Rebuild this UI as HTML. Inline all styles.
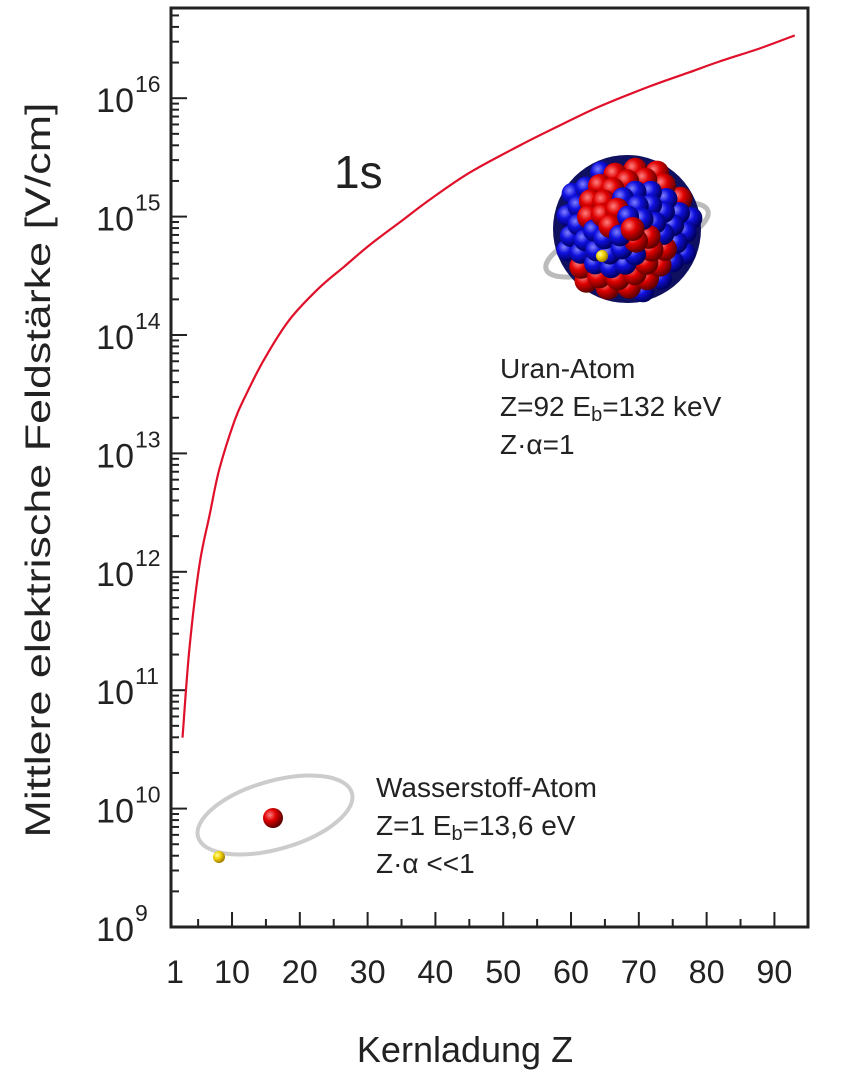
<!DOCTYPE html>
<html><head><meta charset="utf-8"><style>
html,body{margin:0;padding:0;background:#fff;}
svg{display:block;font-family:"Liberation Sans","DejaVu Sans",sans-serif;}
</style></head><body>
<svg id="chart" width="860" height="1080" viewBox="0 0 860 1080">
<defs>
<radialGradient id="gr" cx="35%" cy="35%" r="65%"><stop offset="0" stop-color="#ff8080"/><stop offset="0.45" stop-color="#e00000"/><stop offset="1" stop-color="#600000"/></radialGradient>
<radialGradient id="gb" cx="35%" cy="35%" r="65%"><stop offset="0" stop-color="#8080ff"/><stop offset="0.45" stop-color="#1010e0"/><stop offset="1" stop-color="#000060"/></radialGradient>
<radialGradient id="gy" cx="35%" cy="35%" r="65%"><stop offset="0" stop-color="#ffffa0"/><stop offset="0.5" stop-color="#f0d000"/><stop offset="1" stop-color="#a08000"/></radialGradient>
</defs>
<g id="axes"></g>
<g id="marks"></g>
<g id="deco"></g>
</svg>
<script>
const zValues = [2.7, 3.7, 5.2, 6.7, 8.1, 10.4, 12.1, 14.8, 18.5, 22.9, 26.6, 30.3, 34.7, 39.1, 45, 52.4, 58, 64.2, 71.6, 77.5, 81.9, 87.8, 93];
const logField = [10.6, 11.34, 12.06, 12.48, 12.86, 13.28, 13.5, 13.8, 14.13, 14.4, 14.58, 14.76, 14.95, 15.14, 15.37, 15.6, 15.76, 15.93, 16.1, 16.22, 16.31, 16.42, 16.53];
const xTickLabels = [1, 10, 20, 30, 40, 50, 60, 70, 80, 90];
const yExponents = [9, 10, 11, 12, 13, 14, 15, 16];

const NS = "http://www.w3.org/2000/svg";
const L = 171, R = 808, T = 8, B = 927;
const xS = z => L + (z - 1) * 6.78;
const yS = lg => B - (lg - 9) * 118.4;
function mk(tag, attrs, parent, text) {
  const e = document.createElementNS(NS, tag);
  for (const k in attrs) e.setAttribute(k, attrs[k]);
  if (text !== undefined) e.textContent = text;
  parent.appendChild(e);
  return e;
}
const axes = document.getElementById('axes');
const frame = mk('rect', {x: L, y: T, width: R - L, height: B - T, fill: 'none', stroke: '#222', 'stroke-width': 3}, axes);


for (let v = 5; v <= 90; v += 5) {
  const major = v % 10 === 0;
  const t = mk('line', {x1: xS(v), x2: xS(v), y1: B, y2: B - (major ? 15 : 8), stroke: '#222', 'stroke-width': 2}, axes);
  
  
}
xTickLabels.forEach(v => {
  const attrs = {x: xS(v) + (v === 1 ? 4 : 0), y: 983, 'font-size': 32, 'text-anchor': 'middle', fill: '#222'};
  if (v !== 1) { attrs.textLength = 36; attrs.lengthAdjust = 'spacingAndGlyphs'; }
  const t = mk('text', attrs, axes, String(v));
  
  
});
for (let d = 9; d <= 16; d++) {
  for (let m = 1; m <= 9; m++) {
    const y = yS(d + Math.log10(m));
    if (y < T) continue;
    const t = mk('line', {x1: L, x2: L + (m === 1 ? 16 : 8), y1: y, y2: y, stroke: '#222', 'stroke-width': 2}, axes);
    
    
  }
}
yExponents.forEach(e => {
  const t = mk('text', {x: 134, y: yS(e) + 14, 'font-size': 34, 'text-anchor': 'end', fill: '#222'}, axes, '10');
  
  
  const s = mk('text', {x: 135, y: yS(e) - 6, 'font-size': 23, fill: '#222'}, axes, String(e));
  
  
});
const yt = mk('text', {x: 0, y: 0, 'font-size': 35, 'text-anchor': 'middle', fill: '#222', transform: 'translate(50,470) rotate(-90)', textLength: 735, lengthAdjust: 'spacingAndGlyphs'}, axes, 'Mittlere elektrische Feldstärke [V/cm]');


const xt = mk('text', {x: 465, y: 1062, 'font-size': 36, 'text-anchor': 'middle', fill: '#222'}, axes, 'Kernladung Z');



const marks = document.getElementById('marks');
const P = zValues.map((z, i) => [xS(z), yS(logField[i])]);
let d = 'M' + P[0][0].toFixed(1) + ',' + P[0][1].toFixed(1);
for (let i = 0; i < P.length - 1; i++) {
  const p0 = P[Math.max(0, i - 1)], p1 = P[i], p2 = P[i + 1], p3 = P[Math.min(P.length - 1, i + 2)];
  const c1 = [p1[0] + (p2[0] - p0[0]) / 6, p1[1] + (p2[1] - p0[1]) / 6];
  const c2 = [p2[0] - (p3[0] - p1[0]) / 6, p2[1] - (p3[1] - p1[1]) / 6];
  d += ' C' + c1.map(v => v.toFixed(1)).join(',') + ' ' + c2.map(v => v.toFixed(1)).join(',') + ' ' + p2.map(v => v.toFixed(1)).join(',');
}
const line = mk('path', {d: d, fill: 'none', stroke: '#e0102a', 'stroke-width': 2.2}, marks);



const deco = document.getElementById('deco');
const lbl = mk('text', {x: 334, y: 188, 'font-size': 46, fill: '#222'}, deco, '1s');


function block(x, y, lines, name) {
  const g = mk('g', {}, deco);
  
  
  lines.forEach((ln, i) => {
    const t = mk('text', {x: x, y: y + i * 38, 'font-size': 28, fill: '#222'}, g);
    t.innerHTML = ln;
  });
}
block(500, 378, ['Uran-Atom', 'Z=92 E<tspan font-size="20" dy="5">b</tspan><tspan dy="-5">=132 keV</tspan>', 'Z·α=1'], 'uranium-annotation');
block(376, 797, ['Wasserstoff-Atom', 'Z=1 E<tspan font-size="20" dy="5">b</tspan><tspan dy="-5">=13,6 eV</tspan>', 'Z·α &lt;&lt;1'], 'hydrogen-annotation');

const nuc = mk('g', {}, deco);


mk('ellipse', {cx: 627, cy: 240, rx: 86, ry: 24, fill: 'none', stroke: '#bbb', 'stroke-width': 5, transform: 'rotate(-20 627 240)'}, nuc);
mk('circle', {cx: 627, cy: 229, r: 74, fill: '#101060'}, nuc);
const balls = [];
const N = 70;
for (let i = 0; i < N; i++) {
  const r = 66 * Math.sqrt((i + 0.5) / N);
  const a = i * 2.39996;
  const red = ((i * 0.7548 + 0.13) % 1) < 0.42;
  balls.push({x: 627 + r * Math.cos(a), y: 229 + r * Math.sin(a), red: red, d: r});
}
balls.sort((a, b) => b.d - a.d);
balls.forEach(b => {
  mk('circle', {cx: b.x.toFixed(1), cy: b.y.toFixed(1), r: b.red ? 12 : 11, fill: b.red ? 'url(#gr)' : 'url(#gb)'}, nuc);
});
mk('circle', {cx: 602, cy: 256, r: 6, fill: 'url(#gy)'}, nuc);

const h = mk('g', {}, deco);


mk('ellipse', {cx: 275, cy: 815, rx: 80, ry: 34, fill: 'none', stroke: '#ccc', 'stroke-width': 4, transform: 'rotate(-16 275 815)'}, h);
mk('circle', {cx: 273, cy: 818, r: 10, fill: 'url(#gr)'}, h);
mk('circle', {cx: 219, cy: 857, r: 6, fill: 'url(#gy)'}, h);
</script>
</body></html>
